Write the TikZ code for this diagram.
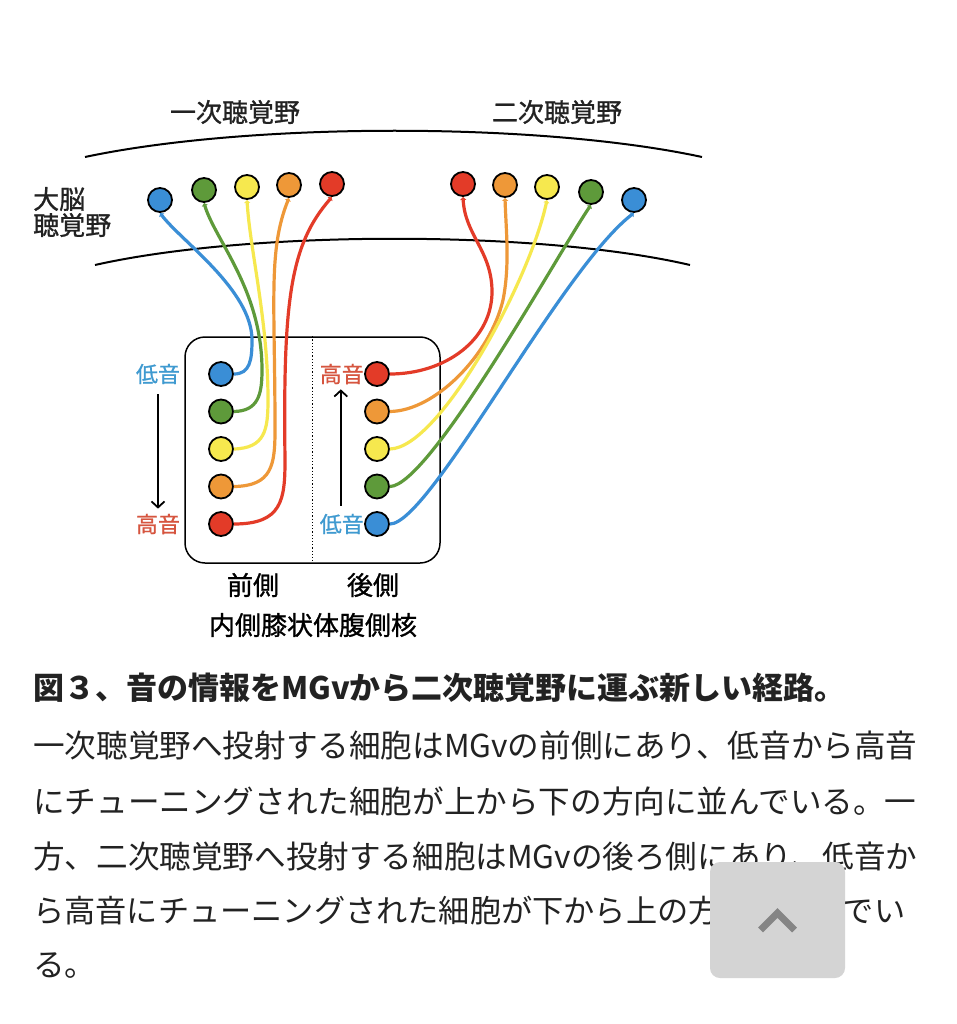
\documentclass[tikz,border=0pt]{standalone}
\usepackage{fontspec}
\setmainfont{Noto Sans CJK JP}
\newfontfamily\bildfont[FakeBold=1]{Noto Sans CJK JP}
\usetikzlibrary{arrows.meta}
\definecolor{zblau}{HTML}{3A8ED6}
\definecolor{zgruen}{HTML}{5E9A3A}
\definecolor{zgelb}{HTML}{F6E84E}
\definecolor{zorange}{HTML}{EE9838}
\definecolor{zrot}{HTML}{E33B28}
\definecolor{tonblau}{HTML}{3F9AD0}
\definecolor{tonrot}{HTML}{D6553F}
\definecolor{schrift}{HTML}{222222}
\definecolor{knopfgrau}{HTML}{D4D4D4}
\definecolor{pfeilgrau}{HTML}{858585}
\begin{document}
\begin{tikzpicture}
	[
	x=1pt, y=-1pt, font=\bildfont\fontsize{26}{30}\selectfont, >=latex,
	%Voreinstellungen
	zelle/.style={circle, draw=black, line width=1.8pt, minimum size=24pt, inner sep=0pt},
	faser/.style={line width=3.2pt, -{Latex[length=3pt, width=7pt]}},
	ton/.style={font=\bildfont\fontsize{22}{24}\selectfont, inner sep=0pt},
	tonpfeil/.style={line width=1.8pt, -{Straight Barb[length=6pt, width=13pt]}},
	zeile/.style={anchor=west, inner sep=0pt, text=schrift, font=\fontsize{31.6}{34}\selectfont}
	]
	\useasboundingbox (0,0) rectangle (956,1024);
	\fill[white] (0,0) rectangle (956,1024);
	
	%Hirnrinde
	\node[text=schrift] (primaer) at (235,112) {一次聴覚野};
	\node[text=schrift] (sekundaer) at (557,112) {二次聴覚野};
	\node[text=schrift, anchor=west, align=left, inner sep=0pt, font=\bildfont\fontsize{26}{26}\selectfont] (rinde) at (33,212) {大脳\\聴覚野};
	\draw[line width=2pt] (85,157) .. controls (250,122) and (540,122) .. (702,157);
	\draw[line width=2pt] (95,265) .. controls (250,230) and (540,230) .. (690,265);
	
	%Zellen im Kortex
	\foreach \farbe/\x/\y [count=\i] in {zblau/160/200, zgruen/204/190, zgelb/247/187, zorange/289/185, zrot/332/184}
		\node[zelle, fill=\farbe] (pa\i) at (\x,\y) {};
	\foreach \farbe/\x/\y [count=\i] in {zrot/463/184, zorange/505/185, zgelb/547/187, zgruen/591/192, zblau/634/200}
		\node[zelle, fill=\farbe] (sa\i) at (\x,\y) {};
	
	%MGv
	\node[draw, line width=1.5pt, rounded corners=20pt, minimum width=255pt, minimum height=226pt] (mgv) at (312.5,450) {};
	\draw[dotted, line width=1.2pt] (mgv.north) -- (mgv.south);
	\foreach \farbe [count=\i] in {zblau, zgruen, zgelb, zorange, zrot}
		\node[zelle, fill=\farbe] (l\i) at (221,{336.5+37.5*\i}) {};
	\foreach \farbe [count=\i] in {zrot, zorange, zgelb, zgruen, zblau}
		\node[zelle, fill=\farbe] (r\i) at (377,{336.5+37.5*\i}) {};
	
	%Tonhoehe
	\node[ton, text=tonblau] (tief1) at (158,374) {低音};
	\node[ton, text=tonrot] (hoch1) at (158,524) {高音};
	\draw[tonpfeil] ([yshift=-10pt]tief1.south) -- ([yshift=5pt]hoch1.north);
	\node[ton, text=tonrot, anchor=east] (hoch2) at (364,374) {高音};
	\node[ton, text=tonblau, anchor=east] (tief2) at (364,524) {低音};
	\draw[tonpfeil] ([xshift=-1pt, yshift=8pt]tief2.north) -- ([xshift=-1pt, yshift=-5pt]hoch2.south);
	
	\node (vorne) at (253,585) {前側};
	\node (hinten) at (373,585) {後側};
	\node (kern) at (313,625) {内側膝状体腹側核};
	
	%Fasern zum primaeren Feld
	\draw[faser, zblau] (l1.east) .. controls (250,374) and (252,360) .. (252,340) .. controls (252,290) and (180,240) .. (pa1.south);
	\draw[faser, zgruen] (l2.east) .. controls (258,411) and (262,395) .. (262,370) .. controls (262,290) and (215,240) .. (pa2.south);
	\draw[faser, zgelb] (l3.east) .. controls (265,448) and (268,430) .. (268,400) .. controls (268,320) and (250,250) .. (pa3.south);
	\draw[faser, zorange] (l4.east) .. controls (272,486) and (275,465) .. (275,430) .. controls (275,300) and (268,250) .. (pa4.south);
	\draw[faser, zrot] (l5.east) .. controls (282,524) and (285,500) .. (285,460) .. controls (283,300) and (290,245) .. (pa5.south);
	
	%Fasern zum sekundaeren Feld
	\draw[faser, zrot] (r1.east) .. controls (445,374) and (493,340) .. (492,290) .. controls (491,250) and (465,235) .. (sa1.south);
	\draw[faser, zorange] (r2.east) .. controls (435,411) and (490,355) .. (503,300) .. controls (510,265) and (506,230) .. (sa2.south);
	\draw[faser, zgelb] (r3.east) .. controls (440,448) and (530,280) .. (sa3.south);
	\draw[faser, zgruen] (r4.east) .. controls (430,486) and (560,250) .. (sa4.south);
	\draw[faser, zblau] (r5.east) .. controls (430,524) and (560,270) .. (sa5.south);
	
	%Bildunterschrift
	\node[zeile, font=\bfseries\fontsize{31}{34}\selectfont] (titel) at (33,688) {図３、音の情報をMGvから二次聴覚野に運ぶ新しい経路。};
	\node[zeile] (z1) at (33,745) {一次聴覚野へ投射する細胞はMGvの前側にあり、低音から高音};
	\node[zeile] (z2) at (33,801) {にチューニングされた細胞が上から下の方向に並んでいる。一};
	\node[zeile] (z3) at (33,856) {方、二次聴覚野へ投射する細胞はMGvの後ろ側にあり、低音か};
	\node[zeile, font=\fontsize{31.2}{34}\selectfont] (z4) at (33,911) {ら高音にチューニングされた細胞が下から上の方向に並んでい};
	\node[zeile] (z5) at (33,966) {る。};
	
	%Knopf
	\node[fill=knopfgrau, rounded corners=10pt, minimum width=135pt, minimum height=116pt] (knopf) at (777.5,920) {};
	\draw[pfeilgrau, line width=7pt] ([xshift=-17pt, yshift=-10pt]knopf.center) -- ([yshift=7pt]knopf.center) -- ([xshift=17pt, yshift=-10pt]knopf.center);
\end{tikzpicture}
\end{document}
